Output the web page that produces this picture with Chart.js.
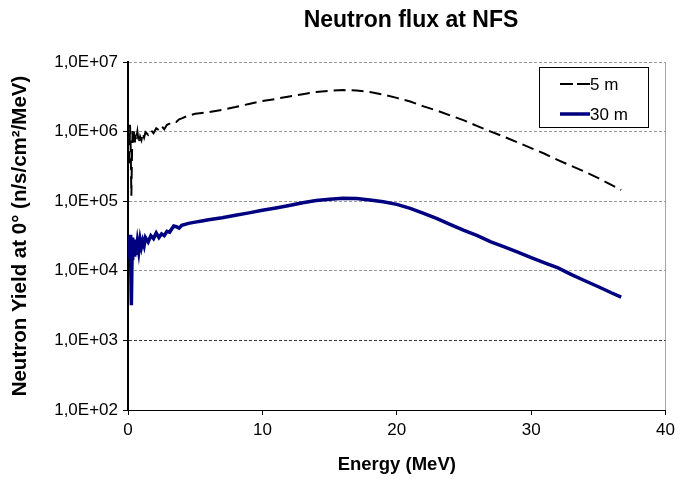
<!DOCTYPE html>
<html><head><meta charset="utf-8">
<script src="https://cdn.jsdelivr.net/npm/chart.js@4"></script>
<style>html,body{margin:0;padding:0;background:#fff;}#wrap{width:680px;height:479px;position:relative;}</style>
</head><body><div id="wrap"><canvas id="c" width="680" height="479"></canvas></div>
<script>
const chartTitle = 'Neutron flux at NFS';
const xAxisTitle = 'Energy (MeV)';
const yAxisTitle = 'Neutron Yield at 0° (n/s/cm²/MeV)';
const seriesLabels = ['5 m', '30 m'];
const energy = [0.10,0.15,0.20,0.25,0.30,0.35,0.40,0.45,0.50,0.55,0.60,0.70,0.80,0.90,1.0,1.1,1.2,1.3,1.5,1.7,1.9,2.1,2.3,2.5,2.7,2.9,3.1,3.4,3.6,3.8,4.0,4.5,5.0,5.5,6,7,8,9,10,11,12,13,14,15,16,17,18,19,20,21,22,23,24,25,26,27,28,29,30,31,32,33,34,35,36,36.7];
const flux5m = [3.5e5,1.25e6,6e5,1.2e5,5e5,1.1e6,7e5,1.0e6,6.5e5,9e5,7.5e5,1.0e6,6.8e5,8.5e5,7.5e5,9.5e5,8.2e5,9.8e5,9.0e5,1.05e6,9.5e5,1.12e6,1.05e6,1.2e6,1.08e6,1.25e6,1.3e6,1.4e6,1.38e6,1.5e6,1.55e6,1.7e6,1.8e6,1.85e6,1.9e6,2.05e6,2.25e6,2.5e6,2.75e6,2.95e6,3.2e6,3.45e6,3.7e6,3.85e6,3.95e6,3.9e6,3.7e6,3.4e6,3.05e6,2.7e6,2.3e6,2.0e6,1.7e6,1.45e6,1.2e6,1.0e6,8.4e5,7.0e5,5.8e5,4.8e5,3.9e5,3.2e5,2.65e5,2.15e5,1.7e5,1.45e5];
const flux30m = [1.5e4,3.3e4,1.3e4,3.2e3,1.5e4,3.0e4,1.8e4,2.8e4,1.6e4,2.4e4,1.7e4,2.6e4,1.9e4,2.8e4,2.2e4,2.7e4,2.3e4,3.0e4,2.6e4,3.2e4,2.9e4,3.5e4,3.0e4,3.4e4,3.2e4,3.7e4,3.6e4,4.4e4,4.3e4,4.1e4,4.5e4,4.8e4,5.0e4,5.2e4,5.4e4,5.8e4,6.3e4,6.8e4,7.4e4,8.0e4,8.7e4,9.5e4,1.02e5,1.07e5,1.1e5,1.09e5,1.04e5,9.8e4,9.0e4,7.9e4,6.7e4,5.6e4,4.6e4,3.8e4,3.2e4,2.6e4,2.2e4,1.85e4,1.55e4,1.3e4,1.1e4,8.8e3,7.2e3,5.9e3,4.8e3,4.2e3];
const xTickStep = 10;
const xMin = 0, xMax = 40;
const yTickValues = [1e2,1e3,1e4,1e5,1e6,1e7];
const yTickLabels = ['1,0E+02','1,0E+03','1,0E+04','1,0E+05','1,0E+06','1,0E+07'];

const FONT = '"Liberation Sans", Arial, sans-serif';
const toPts = ys => energy.map((e,i)=>({x:e,y:ys[i]}));

const overlay = {
  id: 'overlay',
  afterDraw(chart) {
    const ctx = chart.ctx;
    ctx.save();
    ctx.fillStyle = '#000';
    ctx.font = 'bold 23px ' + FONT;
    ctx.textAlign = 'center';
    ctx.textBaseline = 'middle';
    ctx.fillText(chartTitle, 411, 21);
    // legend
    ctx.strokeStyle = '#000';
    ctx.lineWidth = 1;
    ctx.setLineDash([]);
    ctx.strokeRect(539.5, 67.5, 109, 60);
    const rows = [84, 114];
    chart.data.datasets.forEach((ds, i) => {
      const y = rows[i];
      ctx.save();
      ctx.strokeStyle = ds.borderColor;
      ctx.lineWidth = ds.borderWidth;
      ctx.setLineDash(ds.borderDash ? [13,4] : []);
      ctx.beginPath();
      ctx.moveTo(560, y);
      ctx.lineTo(590, y);
      ctx.stroke();
      ctx.restore();
      ctx.fillStyle = '#000';
      ctx.font = '17px ' + FONT;
      ctx.textAlign = 'left';
      ctx.textBaseline = 'middle';
      ctx.fillText(ds.label, 590, y + 1);
    });
    ctx.restore();
  }
};

new Chart(document.getElementById('c'), {
  type: 'scatter',
  data: {
    datasets: [
      { label: seriesLabels[0], data: toPts(flux5m), showLine: true, pointRadius: 0, borderColor: '#000', borderWidth: 2, borderDash: [12,6], tension: 0 },
      { label: seriesLabels[1], data: toPts(flux30m), showLine: true, pointRadius: 0, borderColor: '#000080', borderWidth: 3.5, tension: 0 }
    ]
  },
  options: {
    responsive: false,
    animation: false,
    devicePixelRatio: 1,
    layout: { padding: { top: 62, right: 11, left: 0, bottom: 0 } },
    plugins: { legend: { display: false }, tooltip: { enabled: false }, title: { display: false } },
    scales: {
      x: {
        type: 'linear', min: xMin, max: xMax,
        ticks: { stepSize: xTickStep, color: '#000', font: { family: FONT, size: 17 }, padding: 5, maxRotation: 0 },
        grid: { drawOnChartArea: true, color: c => (c.tick && c.tick.value === xMax) ? '#a6a6a6' : 'rgba(0,0,0,0)', lineWidth: 1, tickColor: '#000', tickLength: 5 },
        border: { display: true, color: '#000', width: 1, dash: [] },
        title: { display: true, text: xAxisTitle, color: '#000', font: { family: FONT, size: 18.5, weight: 'bold' }, padding: { top: 0, bottom: 3 } },
        afterFit: s => { s.height = 69; }
      },
      y: {
        type: 'logarithmic', min: 1e2, max: 1e7,
        afterBuildTicks: s => { s.ticks = yTickValues.map(v => ({ value: v })); },
        ticks: { color: '#000', font: { family: FONT, size: 17 }, padding: 5, callback: v => yTickLabels[yTickValues.indexOf(v)] },
        grid: { drawOnChartArea: true, color: c => { const v = c.tick && c.tick.value; if (v === 1e2) return 'rgba(0,0,0,0)'; if (v === 1e3) return '#333'; return '#9a9a9a'; }, lineWidth: 1, tickColor: '#000', tickLength: 5, tickBorderDash: [] },
        border: { display: true, color: '#000', width: 2, dash: [3,2] },
        title: { display: true, text: yAxisTitle, color: '#000', font: { family: FONT, size: 20.5, weight: 'bold' }, padding: { top: 8, bottom: 0 } },
        afterFit: s => { s.width = 128; }
      }
    }
  },
  plugins: [overlay]
});
</script>
</body></html>
